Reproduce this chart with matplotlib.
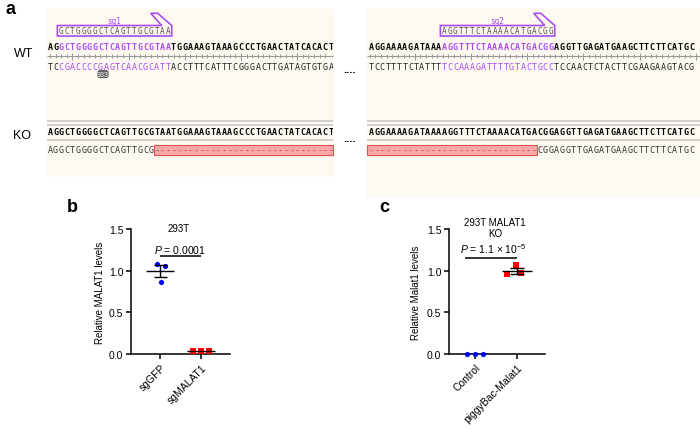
import numpy as np
import matplotlib.pyplot as plt
from matplotlib.patches import Rectangle, Polygon, FancyBboxPatch
from matplotlib.transforms import Bbox, TransformedBbox

plt.rcParams['font.family'] = ['Liberation Sans', 'DejaVu Sans']
plt.rcParams['mathtext.fontset'] = 'custom'
plt.rcParams['mathtext.rm'] = 'Liberation Sans'
plt.rcParams['mathtext.it'] = 'Liberation Sans:italic'

# panel a: sequences
wt1_top = "AGGCTGGGGCTCAGTTGCGTAATGGAAAGTAAAGCCCTGAACTATCACACT"
wt1_bot = "TCCGACCCCGAGTCAACGCATTACCTTTCATTTCGGGACTTGATAGTGTGA"
wt2_top = "AGGAAAAGATAAAAGGTTTCTAAAACATGACGGAGGTTGAGATGAAGCTTCTTCATGC"
wt2_bot = "TCCTTTTCTATTTTCCAAAGATTTTGTACTGCCTCCAACTCTACTTCGAAGAAGTACG"
sg1_seq, sg1_start = "GCTGGGGCTCAGTTGCGTAA", 2
sg2_seq, sg2_start = "AGGTTTCTAAAACATGACGG", 13
ko1_bot = "AGGCTGGGGCTCAGTTGCG" + "-" * 32
ko2_bot = "-" * 30 + "CGGAGGTTGAGATGAAGCTTCTTCATGC"
cut_label = "933"

# panel b / c values
b_groups = ["sgGFP", "sgMALAT1"]
b_gfp = [1.08, 1.06, 0.86]
b_malat = [0.04, 0.04, 0.04]
c_groups = ["Control", "piggyBac-Malat1"]
c_ctrl = [0.0, 0.0, 0.0]
c_pb = [0.96, 1.07, 0.97]

PURPLE = '#a94cf2'
BEIGE = '#fdf9f1'
CW = 5.62
MONO = 'DejaVu Sans Mono'

fig = plt.figure(figsize=(7, 4.31), dpi=100)
ax = fig.add_axes([0, 0, 1, 1])
ax.set_xlim(0, 700)
ax.set_ylim(431, 0)
ax.axis('off')

# beige panels
ax.add_patch(Rectangle((47, 10), 286, 166, color=BEIGE, zorder=0))
ax.add_patch(Rectangle((367, 10), 333, 187, color=BEIGE, zorder=0))

clipL = TransformedBbox(Bbox.from_extents(47, 0, 333, 431), ax.transData)
clipR = TransformedBbox(Bbox.from_extents(367, 0, 700, 431), ax.transData)


def put_seq(s, x0, y, colors, weight='bold', size=6, clip=None):
    for i, ch in enumerate(s):
        col = colors[i] if isinstance(colors, list) else colors
        t = ax.text(x0 + (i + 0.5) * CW, y, ch, ha='center', va='center',
                    fontsize=size, fontweight=weight, color=col, family=MONO)
        if clip is not None:
            t.set_clip_box(clip)
            t.set_clip_on(True)


def sg_colors(s, start, n, base):
    return [PURPLE if start <= i < start + n else base for i in range(len(s))]


def ruler(x0, x1, y, first_big):
    ax.hlines(y, x0, x1, color='#999999', lw=0.8)
    n = int((x1 - x0) / CW)
    for i in range(n):
        xc = x0 + (i + 0.5) * CW
        h = 3.5 if (i - first_big) % 10 == 0 else 1.8
        ax.vlines(xc, y - h, y + h, color='#999999', lw=0.7)


def sg_box(x0, n, label):
    x1 = x0 + n * CW
    verts = [(x0 - 1, 26.5), (x1 - 9, 26.5), (x1 - 20, 14.3), (x1 - 13, 14.3),
             (x1 + 1, 26.5), (x1 + 1, 37), (x0 - 1, 37)]
    ax.add_patch(Polygon(verts, closed=True, fill=False, edgecolor=PURPLE, lw=1.2))
    ax.text((x0 + x1) / 2, 21, label, ha='center', va='center', fontsize=5.5,
            color=PURPLE, family=MONO)


# WT rows
xL, xR = 47.1, 368.3
sg_box(xL + sg1_start * CW, len(sg1_seq), 'sg1')
put_seq(sg1_seq, xL + sg1_start * CW, 32, '#555555', weight='normal', size=5.5)
put_seq(wt1_top, xL, 47, sg_colors(wt1_top, sg1_start, 20, 'black'), clip=clipL)
ruler(xL, 333, 57, 4)
put_seq(wt1_bot, xL, 68, sg_colors(wt1_bot, sg1_start, 20, '#222222'),
        weight='normal', clip=clipL)
ax.add_patch(FancyBboxPatch((98.5, 72.3), 9, 5.6, boxstyle='round,pad=0.5,rounding_size=1.8',
                            color='#5f5f5f'))
ax.text(103, 75.2, cut_label, ha='center', va='center', fontsize=5, color='white')

sg_box(xR + sg2_start * CW, len(sg2_seq), 'sg2')
put_seq(sg2_seq, xR + sg2_start * CW, 32, '#555555', weight='normal', size=5.5)
put_seq(wt2_top, xR, 47, sg_colors(wt2_top, sg2_start, 20, 'black'), clip=clipR)
ruler(367, 700, 57, 8)
put_seq(wt2_bot, xR, 68, sg_colors(wt2_bot, sg2_start, 20, '#222222'),
        weight='normal', clip=clipR)

ax.text(24, 54, 'WT', ha='center', va='center', fontsize=9)
ax.text(22, 136, 'KO', ha='center', va='center', fontsize=9)
ax.text(350, 73, '....', ha='center', va='baseline', fontsize=8, fontweight='bold')
ax.text(350, 142, '....', ha='center', va='baseline', fontsize=8, fontweight='bold')

# KO rows
for (a, b) in [(47, 333), (367, 700)]:
    ax.hlines([122, 125.5, 140.5], a, b, color='#cccccc', lw=1.3)
ax.add_patch(Rectangle((xL + 19 * CW, 145.5), 333 - (xL + 19 * CW), 10.5,
                       facecolor='#f7a9a9', edgecolor='#e35050', lw=0.8))
ax.add_patch(Rectangle((367, 145.5), xR + 30 * CW - 367, 10.5,
                       facecolor='#f7a9a9', edgecolor='#e35050', lw=0.8))
put_seq(wt1_top, xL, 132.5, 'black', clip=clipL)
put_seq(wt2_top, xR, 132.5, 'black', clip=clipR)
put_seq(ko1_bot, xL, 151, ['#d04040' if c == '-' else '#333333' for c in ko1_bot],
        weight='normal', clip=clipL)
put_seq(ko2_bot, xR, 151, ['#d04040' if c == '-' else '#333333' for c in ko2_bot],
        weight='normal', clip=clipR)

ax.text(5, 10, 'a', ha='left', va='center', fontsize=13, fontweight='bold')
ax.text(67, 208, 'b', ha='left', va='center', fontsize=13, fontweight='bold')
ax.text(379, 208, 'c', ha='left', va='center', fontsize=13, fontweight='bold')


def dot_panel(rect, xlim, groups, sets, markers, colors, offsets, ylabel, labelpad):
    bx = fig.add_axes(rect)
    for k, vals in enumerate(sets):
        vals = np.array(vals)
        xs = k + np.array(offsets[k])
        bx.scatter(xs, vals, s=14, marker=markers[k], color=colors[k], zorder=3,
                   clip_on=False, linewidths=0)
        m = vals.mean()
        sem = vals.std(ddof=1) / np.sqrt(len(vals))
        bx.hlines(m, k - 0.35, k + 0.35, color='black', lw=1, zorder=4)
        if sem > 0.005:
            bx.vlines(k, m - sem, m + sem, color='black', lw=1, zorder=4)
            bx.hlines([m - sem, m + sem], k - 0.16, k + 0.16, color='black', lw=1, zorder=4)
    bx.set_xlim(*xlim)
    bx.set_ylim(0, 1.5)
    bx.set_yticks([0, 0.5, 1.0, 1.5])
    bx.set_yticklabels(['0.0', '0.5', '1.0', '1.5'])
    bx.set_xticks(range(len(groups)))
    bx.set_xticklabels(groups, rotation=45, ha='right', va='top', rotation_mode='anchor')
    for sp in ['top', 'right']:
        bx.spines[sp].set_visible(False)
    for sp in ['left', 'bottom']:
        bx.spines[sp].set_linewidth(1.1)
    bx.tick_params(direction='out', length=3.5, width=1.1, labelsize=7.5, pad=2)
    bx.set_ylabel(ylabel, fontsize=7, labelpad=labelpad)
    bx.patch.set_alpha(0)
    return bx


bb = dot_panel([131 / 700, 76 / 431, 99 / 700, 125 / 431], (-0.71, 1.71), b_groups,
               [b_gfp, b_malat], ['o', 's'], ['#0000ff', '#ff0000'],
               [[-0.08, 0.13, 0.02], [-0.2, 0.0, 0.2]], 'Relative MALAT1 levels', 3)
bb.text(0.45, 1.515, '293T', ha='center', va='center', fontsize=7, clip_on=False)
bb.text(0.5, 1.26, r'$\it{P}$ = 0.0001', ha='center', va='center', fontsize=7.5)
bb.hlines(1.18, 0, 1, color='black', lw=1.1)

cc = dot_panel([449 / 700, 76 / 431, 96 / 700, 125 / 431], (-0.62, 1.67), c_groups,
               [c_ctrl, c_pb], ['o', 's'], ['#0000ff', '#ff0000'],
               [[-0.19, 0.0, 0.2], [-0.24, -0.02, 0.1]], 'Relative Malat1 levels', 4)
cc.text(0.48, 1.52, '293T MALAT1\nKO', ha='center', va='center', fontsize=7,
        linespacing=1.1, clip_on=False)
cc.text(0.43, 1.27, r'$\it{P}$ = 1.1 × 10$^{-5}$', ha='center', va='center', fontsize=7.5)
cc.hlines(1.15, -0.24, 1.0, color='black', lw=1.1)

fig.savefig('out.png', dpi=100)
